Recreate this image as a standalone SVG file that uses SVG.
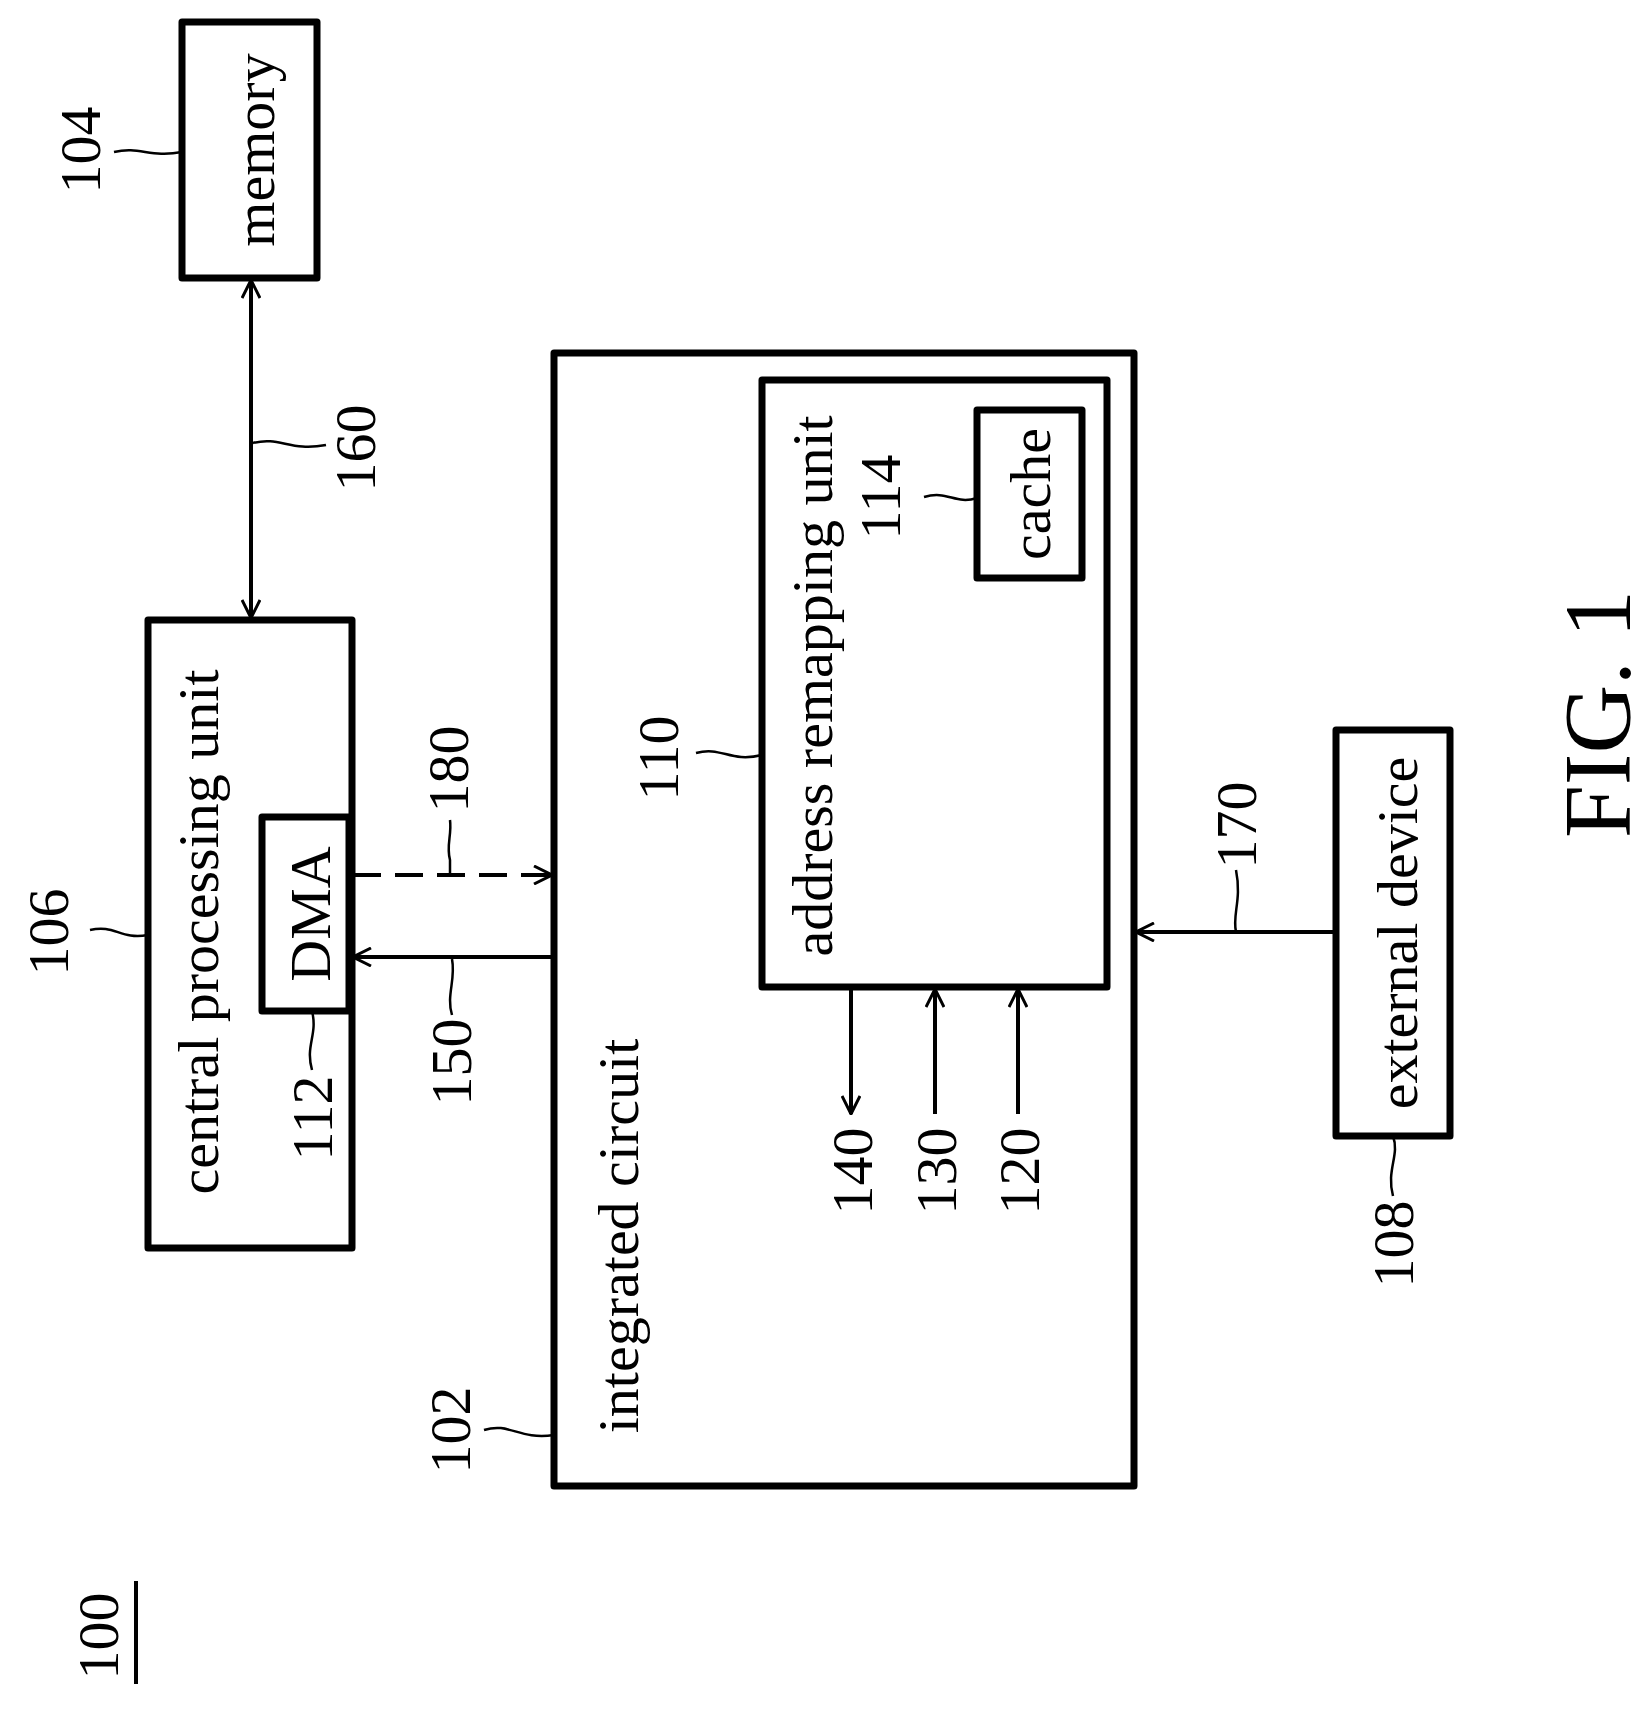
<svg xmlns="http://www.w3.org/2000/svg" width="1652" height="1709" viewBox="0 0 1652 1709">
<style>
.box{fill:none;stroke:#000;stroke-width:7;stroke-linejoin:round}
.ln{fill:none;stroke:#000;stroke-width:4}
.ld{fill:none;stroke:#000;stroke-width:2.5}
text{font-family:"Liberation Serif",serif;font-size:58px;fill:#000;text-anchor:middle;dominant-baseline:central}
</style>
<defs>
<marker id="ar" viewBox="0 0 20 20" refX="19" refY="10" markerWidth="20" markerHeight="20" markerUnits="userSpaceOnUse" orient="auto-start-reverse">
<path d="M1,1 L19,10 L1,19" fill="none" stroke="#000" stroke-width="3"/>
</marker>
</defs>
<g id="memory"><rect class="box" x="182" y="22" width="135" height="256"/><text transform="translate(254,150) rotate(-90)">memory</text></g>
<g id="l104"><text transform="translate(80,150) rotate(-90)">104</text><path class="ld" d="M114,152 C140,146 150,158 182,152"/></g>
<g id="cpu"><rect class="box" x="148" y="620" width="204" height="628"/><text transform="translate(198,932) rotate(-90)">central processing unit</text></g>
<g id="l106"><text transform="translate(48,932) rotate(-90)">106</text><path class="ld" d="M90,930 C115,924 120,940 148,935"/></g>
<g id="dma"><rect class="box" x="262" y="817" width="87" height="194"/><text transform="translate(310,914) rotate(-90)">DMA</text></g>
<g id="l112"><text transform="translate(312,1118) rotate(-90)">112</text><path class="ld" d="M312,1011 C318,1035 305,1045 312,1070"/></g>
<g id="ic"><rect class="box" x="554" y="353" width="580" height="1133"/><text transform="translate(618,1236) rotate(-90)">integrated circuit</text></g>
<g id="l102"><text transform="translate(450,1430) rotate(-90)">102</text><path class="ld" d="M484,1430 C510,1422 518,1440 554,1435"/></g>
<g id="aru"><rect class="box" x="762" y="380" width="345" height="607"/><text transform="translate(812,686) rotate(-90)">address remapping unit</text></g>
<g id="l110"><text transform="translate(658,758) rotate(-90)">110</text><path class="ld" d="M696,753 C722,746 730,763 762,755"/></g>
<g id="cache"><rect class="box" x="977" y="410" width="105" height="168"/><text transform="translate(1030,494) rotate(-90)">cache</text></g>
<g id="l114"><text transform="translate(880,497) rotate(-90)">114</text><path class="ld" d="M924,497 C948,490 955,505 977,498"/></g>
<g id="ext"><rect class="box" x="1336" y="730" width="114" height="406"/><text transform="translate(1397,933) rotate(-90)">external device</text></g>
<g id="l108"><text transform="translate(1393,1244) rotate(-90)">108</text><path class="ld" d="M1393,1136 C1400,1155 1386,1170 1393,1196"/></g>
<g id="labels">
<text transform="translate(355,448) rotate(-90)">160</text>
<text transform="translate(448,769) rotate(-90)">180</text>
<text transform="translate(451,1062) rotate(-90)">150</text>
<text transform="translate(852,1171) rotate(-90)">140</text>
<text transform="translate(936,1171) rotate(-90)">130</text>
<text transform="translate(1019,1171) rotate(-90)">120</text>
<text transform="translate(1236,825) rotate(-90)">170</text>
<text transform="translate(1598,714) rotate(-90)" style="font-size:95px">FIG. 1</text>
<text transform="translate(98,1636) rotate(-90)">100</text>
<path d="M136,1581 L136,1684" stroke="#000" stroke-width="4"/>
</g>
<g id="connectors">
<path class="ln" d="M251,280 L251,618" marker-start="url(#ar)" marker-end="url(#ar)"/>
<path class="ld" d="M253,443 C280,436 290,452 326,445"/>
<path class="ln" d="M353,875 L552,875" stroke-dasharray="28,14" marker-end="url(#ar)"/>
<path class="ld" d="M450,875 L450,860 C446,845 452,835 450,820"/>
<path class="ln" d="M554,957 L353,957" marker-end="url(#ar)"/>
<path class="ld" d="M452,959 C456,980 446,995 452,1015"/>
<path class="ln" d="M851,989 L851,1114" marker-end="url(#ar)"/>
<path class="ln" d="M935,1114 L935,989" marker-end="url(#ar)"/>
<path class="ln" d="M1018,1114 L1018,989" marker-end="url(#ar)"/>
<path class="ln" d="M1336,932 L1136,932" marker-end="url(#ar)"/>
<path class="ld" d="M1236,932 C1232,915 1242,900 1236,870"/>
</g>
</svg>
